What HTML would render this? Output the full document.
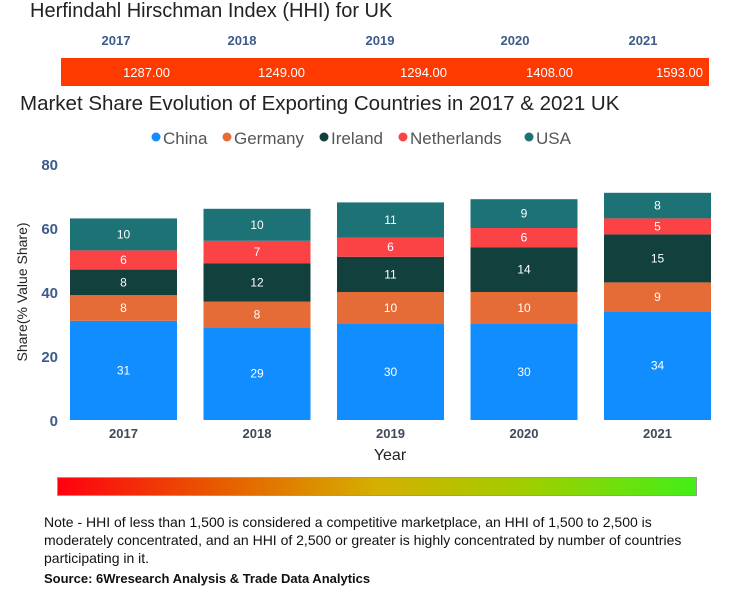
<!DOCTYPE html>
<html><head><meta charset="utf-8"><style>
body{margin:0;width:730px;height:600px;background:#fff;font-family:"Liberation Sans",sans-serif;position:relative;overflow:hidden}
.a{position:absolute}
</style></head><body>
<div class="a" style="left:30px;top:0px;font-size:20px;color:#222">Herfindahl Hirschman Index (HHI) for UK</div>
<div class="a" style="left:61px;top:58px;width:648px;height:28px;background:#ff3a00"></div>
<div class="a" style="left:20px;top:92px;font-size:20.5px;color:#222">Market Share Evolution of Exporting Countries in 2017 &amp; 2021 UK</div>
<svg class="a" style="left:0;top:0" width="730" height="600" id="svg"></svg>
<div class="a" style="left:57px;top:477px;width:640px;height:19px;background:linear-gradient(to right,#ff0010,#e85a00,#d4b000,#9cd000,#44ee18);border:1px solid #999;box-sizing:border-box"></div>
<div class="a" style="left:44px;top:513px;width:668px;font-size:14px;line-height:18px;color:#111">Note - HHI of less than 1,500 is considered a competitive marketplace, an HHI of 1,500 to 2,500 is moderately concentrated, and an HHI of 2,500 or greater is highly concentrated by number of countries participating in it.</div>
<div class="a" style="left:44px;top:571px;font-size:13px;font-weight:bold;color:#111">Source: 6Wresearch Analysis &amp; Trade Data Analytics</div>
<script>
const hhiYears=["2017","2018","2019","2020","2021"];
const hhiValues=["1287.00","1249.00","1294.00","1408.00","1593.00"];
const years=["2017","2018","2019","2020","2021"];
const series=["China","Germany","Ireland","Netherlands","USA"];
const colors=["#118dff","#e66c37","#12403c","#fb4346","#1c7275"];
const china=[31,29,30,30,34];
const germany=[8,8,10,10,9];
const ireland=[8,12,11,14,15];
const netherlands=[6,7,6,6,5];
const usa=[10,10,11,9,8];
const yTicks=[0,20,40,60,80];
const data=[china,germany,ireland,netherlands,usa];
const NS="http://www.w3.org/2000/svg";
const svg=document.getElementById('svg');
function y(v){return 420-v*3.2;}
function x(i){return 70+i*133.5;}
const bw=107;
function el(t,a,txt){const e=document.createElementNS(NS,t);for(const k in a)e.setAttribute(k,a[k]);if(txt!==undefined)e.textContent=txt;svg.appendChild(e);return e;}
const hx=[116,242,380,515,643],vx=[170,305,447,573,703];
hhiYears.forEach((yr,i)=>{
 const t=el('text',{x:hx[i],y:45,'text-anchor':'middle','font-size':13,'font-weight':'bold',fill:'#3d5a8a'},yr);
 
 
});
const lxs=[156,227,324,403,529];
series.forEach((s,i)=>{
 const c=el('circle',{cx:lxs[i],cy:137,r:4.5,fill:colors[i]});
 
 
 const t=el('text',{x:lxs[i]+7,y:144,'font-size':17,fill:'#555'},s);
 
 
});
yTicks.forEach(v=>{
 const t=el('text',{x:58,y:y(v)+6,'text-anchor':'end','font-size':15,'font-weight':'bold',fill:'#3d5a8a'},v);
 
 
});
const yt=el('text',{x:27,y:292,'text-anchor':'middle','font-size':14,fill:'#222',transform:'rotate(-90 27 292)'},'Share(% Value Share)');


years.forEach((yr,i)=>{
 let acc=0;
 data.forEach((arr,s)=>{
  const v=arr[i];
  const r=el('rect',{x:x(i),y:y(acc+v),width:bw,height:v*3.2,fill:colors[s]});
  
  
  const t=el('text',{x:x(i)+bw/2,y:y(acc+v/2)+4,'text-anchor':'middle','font-size':12,fill:'#fff'},v);
  
  
  acc+=v;
 });
 const t=el('text',{x:x(i)+bw/2,y:438,'text-anchor':'middle','font-size':13,'font-weight':'bold',fill:'#3d4a5a'},yr);
 
 
});
const xt=el('text',{x:390,y:460,'text-anchor':'middle','font-size':16,fill:'#222'},'Year');


hhiValues.forEach((v,i)=>{
 const t=el('text',{x:vx[i],y:77,'text-anchor':'end','font-size':13,fill:'#fff'},v);
 
 
});
svg.parentNode.appendChild(svg);
</script>
</body></html>
